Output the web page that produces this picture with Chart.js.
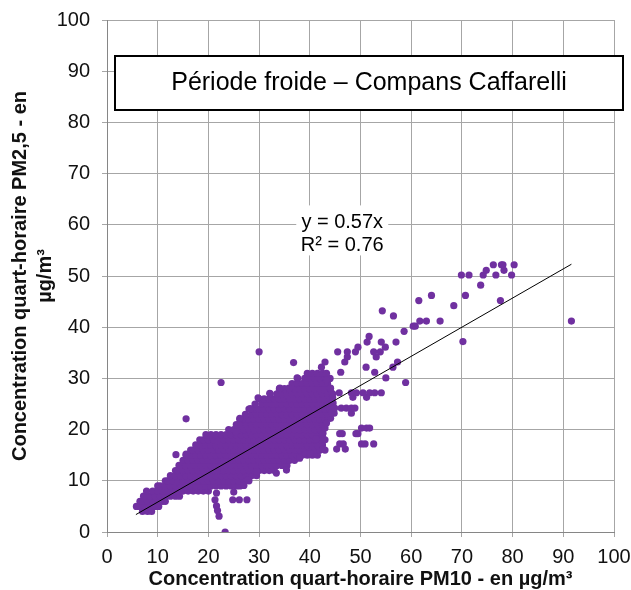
<!DOCTYPE html>
<html><head><meta charset="utf-8">
<script src="https://cdn.jsdelivr.net/npm/chart.js@4"></script>
<style>html,body{margin:0;padding:0;background:#fff}canvas{display:block}</style>
</head><body>
<canvas id="c" width="631" height="590"></canvas>
<script>
// ---- data ----
const chartTitle = "Période froide – Compans Caffarelli";
const xAxisTitle = "Concentration quart-horaire PM10 - en µg/m³";
const yAxisTitle = ["Concentration quart-horaire PM2,5 - en", "µg/m³"];
const equationLines = ["y = 0.57x", "R² = 0.76"];
const xTickValues = [0,10,20,30,40,50,60,70,80,90,100];
const yTickValues = [0,10,20,30,40,50,60,70,80,90,100];

// dense cloud: PM2.5 level (y) and the PM10 values (x) seen on that level
const cloudY = [4,5,6,7,8,9,10,11,12,13,14,15,16,17,18,19,20,21,22,23,24,25,26,27,28,29,30,31];
const cloudX = [
  [7,8,8.8],
  [5.8,6.5,7.5,8.5,9.5,10.2],
  [6.5,7,8,9,10,11,11.5],
  [7.2,7.5,8.5,9.5,10.5,11.5,12.5,13.5,14.3],
  [7.8,9,10,11,12,13,14,15,16,17,18,19,20],
  [10,10.5,11.5,12.5,13.5,14.5,15.5,16.5,17.5,18.5,19.5,20.5,21.5,22.5,23.5,24.5,25.5,26.2],
  [11.5,12,13,14,15,16,17,18,19,20,21,22,23,24,25,26,27,28],
  [12.5,13.5,14.5,15.5,16.5,17.5,18.5,19.5,20.5,21.5,22.5,23.5,24.5,25.5,26.5,27.5,28.5,29.5],
  [13.5,14,15,16,17,18,19,20,21,22,23,24,25,26,27,28,29,30,31,32,33],
  [14.2,14.5,15.5,16.5,17.5,18.5,19.5,20.5,21.5,22.5,23.5,24.5,25.5,26.5,27.5,28.5,29.5,30.5,31.5,32.5,33.5,34.5,35.5],
  [15,16,17,18,19,20,21,22,23,24,25,26,27,28,29,30,31,32,33,34,35,36,37],
  [15.6,16.5,17.5,18.5,19.5,20.5,21.5,22.5,23.5,24.5,25.5,26.5,27.5,28.5,29.5,30.5,31.5,32.5,33.5,34.5,35.5,36.5,37.5,38.5,39.5,40.5,41.5],
  [16.5,17,18,19,20,21,22,23,24,25,26,27,28,29,30,31,32,33,34,35,36,37,38,39,40,41,42,43],
  [17.5,18.5,19.5,20.5,21.5,22.5,23.5,24.5,25.5,26.5,27.5,28.5,29.5,30.5,31.5,32.5,33.5,34.5,35.5,36.5,37.5,38.5,39.5,40.5,41.5,42.5],
  [18.3,19,20,21,22,23,24,25,26,27,28,29,30,31,32,33,34,35,36,37,38,39,40,41,42,43],
  [19.5,20.5,21.5,22.5,23.5,24.5,25.5,26.5,27.5,28.5,29.5,30.5,31.5,32.5,33.5,34.5,35.5,36.5,37.5,38.5,39.5,40.5,41.5,42.5],
  [24,25,26,27,28,29,30,31,32,33,34,35,36,37,38,39,40,41,42],
  [25.5,26.5,27.5,28.5,29.5,30.5,31.5,32.5,33.5,34.5,35.5,36.5,37.5,38.5,39.5,40.5,41.5,42.5],
  [26.2,27,28,29,30,31,32,33,34,35,36,37,38,39,40,41,42,43],
  [27.3,28.5,29.5,30.5,31.5,32.5,33.5,34.5,35.5,36.5,37.5,38.5,39.5,40.5,41.5,42.5,43.5],
  [28,29,30,31,32,33,34,35,36,37,38,39,40,41,42,43,44],
  [29.2,30.5,31.5,32.5,33.5,34.5,35.5,36.5,37.5,38.5,39.5,40.5,41.5,42.5,43.5],
  [30,31,32,33,34,35,36,37,38,39,40,41,42,43,44],
  [32.2,33.5,34.5,35.5,36.5,37.5,38.5,39.5,40.5,41.5,42.5,43.5,44.5],
  [34,35,36,37,38,39,40,41,42,43,44],
  [36.5,37.5,38.5,39.5,40.5,41.5,42.5,43.5],
  [37.6,39,40,41,42,43,44],
  [39.5,40.5,41.5,42.5,43.3]
];

// scattered points outside the dense cloud
const sparseX = [21.6,21.3,21.6,21.8,22.1,23.3,24.8,26.1,27.6,25,27,27.8,13.6,15.6,15.6,22.5,30,36.8,37.5,35.9,34.1,32.1,29.8,28.3,26.2,25.4,
  29.5,33.4,35.4,38,39.3,40,
  42.6,43,43.3,44.1,44.8,43.9,44.6,44.3,43.3,44.1,42.3,43,41.3,42.6,42.6,
  45.3,47,45.9,46.6,50.2,50.9,52.6,45.9,46.4,49.1,49.5,50.2,51.2,51.8,44.3,48.2,44.9,46.2,47.2,48.2,48.9,44.5,48.5,51.2,
  45.8,48.2,49.2,50.5,51.8,52.8,54.1,58.9,55,46.1,52.8,51.1,56.4,46.9,57.3,47.4,53.1,
  45.5,47.4,49,52.6,53.9,49.5,54.9,51.3,54.1,57,51.7,58.6,
  60.4,60.8,61.7,63,65.7,56.5,54.3,68.4,61.5,77.6,64,70.7,70.2,73.7,69.9,71.4,74.2,76.7,79.8,74.8,78.3,76.2,77.8,78.1,80.3,91.6];
const sparseY = [7.6,6.3,5.1,4.2,3.1,0,6.3,6.3,6.3,7.8,9.1,10.2,15.1,15.2,22.1,29.2,35.2,33.1,30.1,28.1,28.1,27.1,26.2,24.1,22.2,19.6,
  11.8,11.5,12.1,14.4,15.3,15.3,
  19.3,20.3,21.3,22.2,23.2,24.1,25.2,27.1,29.7,28.1,32.2,33.2,18.2,18.2,16.2,
  16.2,16.2,17.2,17.2,17.2,17.2,17.2,19.2,19.2,19.2,19.2,20.3,20.3,20.3,23.2,23.2,24.2,24.2,24.2,24.2,24.2,26.3,26.3,26.3,
  27.2,27.2,27.2,27.2,27.2,27.2,27.2,29.2,30.1,31.2,31.2,32.2,32.2,33.2,33.2,34.2,34.2,
  35.2,35.2,35.2,35.2,35.2,36.1,36.1,37.1,37.1,37.1,38.2,39.2,
  40.2,40.2,41.2,41.2,41.2,42.2,43.2,44.2,45.2,45.2,46.2,46.2,37.2,48.2,50.2,50.2,50.2,50.2,50.2,51.1,51.1,52.2,52.2,52.2,52.2,41.2];

// linear trendline end points as drawn
const trendX = [5.7, 91.6];
const trendY = [3.4, 52.3];

// ---- build datasets ----
const points = [];
cloudY.forEach((y, i) => cloudX[i].forEach(x => points.push({x: x, y: y})));
sparseX.forEach((x, i) => points.push({x: x, y: sparseY[i]}));
const trend = trendX.map((x, i) => ({x: x, y: trendY[i]}));

const FONT = "'Liberation Sans', Arial, sans-serif";
const PURPLE = '#7030A0';
const GRID = '#a6a6a6';

const overlay = {
  id: 'overlay',
  beforeDraw(chart) {
    const ctx = chart.ctx;
    ctx.save();
    ctx.fillStyle = '#fff';
    ctx.fillRect(0, 0, chart.width, chart.height);
    ctx.restore();
  },
  afterDraw(chart) {
    const ctx = chart.ctx;
    const a = chart.chartArea;
    const xs = chart.scales.x, ys = chart.scales.y;
    ctx.save();
    // title box
    const bx = a.left + 8, by = a.top + 36, bw = (a.right + 9) - bx, bh = 54;
    ctx.fillStyle = '#fff';
    ctx.fillRect(bx, by, bw, bh);
    ctx.lineWidth = 2;
    ctx.strokeStyle = '#000';
    ctx.strokeRect(bx, by, bw, bh);
    ctx.fillStyle = '#000';
    ctx.font = "25px " + FONT;
    ctx.textAlign = 'center';
    ctx.textBaseline = 'alphabetic';
    ctx.fillText(chartTitle, bx + bw / 2, by + 34);
    // equation label
    const cx = xs.getPixelForValue(46.4);
    const cy = ys.getPixelForValue(59.1);
    ctx.fillStyle = '#fff';
    ctx.fillRect(cx - 46, cy - 24, 92, 50);
    ctx.fillStyle = '#000';
    ctx.font = "20px " + FONT;
    ctx.fillText(equationLines[0], cx, cy - 1);
    ctx.fillText(equationLines[1], cx, cy + 21.3);
    ctx.restore();
  }
};

new Chart(document.getElementById('c'), {
  type: 'scatter',
  data: {
    datasets: [
      {
        type: 'line', data: trend, borderColor: '#000', borderWidth: 1,
        pointRadius: 0, fill: false, order: 0
      },
      {
        data: points, backgroundColor: PURPLE, borderWidth: 0,
        pointRadius: 3.6, pointHoverRadius: 3.6, order: 1
      }
    ]
  },
  options: {
    responsive: false,
    animation: false,
    events: [],
    layout: {padding: {top: 20, right: 17, left: 0, bottom: 0}},
    plugins: {legend: {display: false}, tooltip: {enabled: false}},
    scales: {
      x: {
        type: 'linear', min: 0, max: 100,
        afterBuildTicks(s) { s.ticks = xTickValues.map(v => ({value: v})); },
        afterFit(s) { s.height = 58; s.paddingLeft = 0; s.paddingRight = 0; },
        ticks: {color: '#111', font: {family: FONT, size: 20}, padding: 8, maxRotation: 0},
        grid: {color: GRID, tickLength: 5, tickColor: GRID},
        border: {color: '#868686'},
        title: {display: true, text: xAxisTitle, color: '#111',
          font: {family: FONT, size: 20, weight: 'bold', lineHeight: 1.2}, padding: {top: 0, bottom: -1}}
      },
      y: {
        type: 'linear', min: 0, max: 100,
        afterBuildTicks(s) { s.ticks = yTickValues.map(v => ({value: v})); },
        afterFit(s) { s.width = 107; s.paddingTop = 0; s.paddingBottom = 0; },
        ticks: {color: '#111', font: {family: FONT, size: 20}, padding: 12},
        grid: {color: GRID, tickLength: 5, tickColor: GRID},
        border: {color: '#868686'},
        title: {display: true, text: yAxisTitle, color: '#111',
          font: {family: FONT, size: 20, weight: 'bold', lineHeight: 1.25}, padding: {top: 7.5, bottom: 0}}
      }
    }
  },
  plugins: [overlay]
});
</script>
</body></html>
